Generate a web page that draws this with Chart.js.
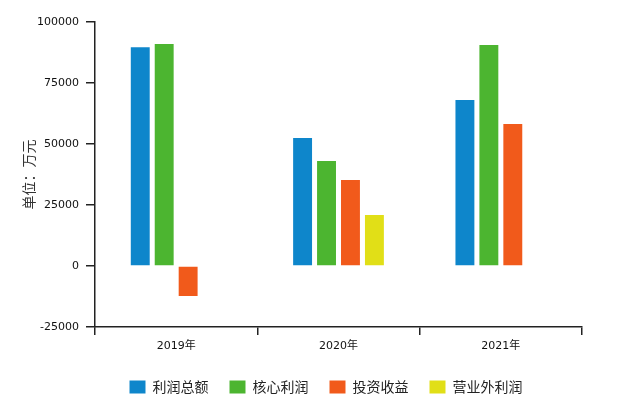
<!DOCTYPE html>
<html>
<head>
<meta charset="utf-8">
<script src="https://cdn.jsdelivr.net/npm/chart.js@4/dist/chart.umd.min.js"></script>
<style>
html,body{margin:0;padding:0;background:#fff;}
#wrap{width:640px;height:395px;}
</style>
</head>
<body>
<div id="wrap"><canvas id="c" width="640" height="395"></canvas></div>
<script>
const categories = ['2019年', '2020年', '2021年'];
const seriesNames = ['利润总额', '核心利润', '投资收益', '营业外利润'];
const totalProfit = [89700, 52500, 68000];
const coreProfit = [91000, 43000, 90600];
const investIncome = [-12300, 35200, 58200];
const nonOperating = [0, 20900, 0];
const yTicks = [-25000, 0, 25000, 50000, 75000, 100000];
const colors = ['#0e86cb', '#4cb530', '#f15a1b', '#e1df17'];

const seriesValues = [totalProfit, coreProfit, investIncome, nonOperating];
const font = 'DejaVu Sans, "Noto Sans CJK SC", sans-serif';

new Chart(document.getElementById('c'), {
  type: 'bar',
  data: {
    labels: categories,
    datasets: seriesNames.map((n, i) => ({
      label: n,
      data: seriesValues[i],
      backgroundColor: colors[i],
      borderWidth: 0,
      categoryPercentage: 0.59,
      barPercentage: 0.79,
      yAxisID: 'y'
    }))
  },
  options: {
    responsive: false,
    animation: false,
    devicePixelRatio: 1,
    layout: { padding: { left: 12, right: 0, top: 22, bottom: -9 } },
    plugins: {
      tooltip: { enabled: false },
      legend: {
        position: 'bottom',
        labels: {
          boxWidth: 16,
          boxHeight: 13,
          padding: 21,
          color: '#222',
          font: { family: '"Noto Sans CJK SC", sans-serif', size: 14 }
        }
      }
    },
    scales: {
      x: {
        grid: { display: true, drawOnChartArea: false, tickLength: 8, color: '#222', lineWidth: 1.5, offset: true },
        border: { display: true, color: '#222', width: 1.5 },
        ticks: { color: '#111', padding: 5, font: { family: font, size: 11 } },
        afterFit: s => { s.height = 32; }
      },
      y: {
        position: 'left',
        min: -25000,
        max: 100000,
        afterBuildTicks: s => { s.ticks = yTicks.map(v => ({ value: v })); },
        grid: { display: true, drawOnChartArea: false, tickLength: 9, color: '#222', lineWidth: 1.5 },
        border: { display: true, color: '#222', width: 1.5 },
        ticks: { color: '#111', padding: 7, font: { family: font, size: 11 }, callback: v => String(v) },
        title: {
          display: true,
          text: '单位：万元',
          color: '#333',
          padding: { top: 8, bottom: 0 },
          font: { family: '"Noto Sans CJK SC", sans-serif', size: 14 }
        },
        afterFit: s => { s.width = 83; }
      },
      yr: {
        position: 'right',
        display: true,
        grid: { display: false },
        border: { display: false },
        ticks: { display: false },
        afterFit: s => { s.width = 58; }
      }
    }
  }
});
</script>
</body>
</html>
